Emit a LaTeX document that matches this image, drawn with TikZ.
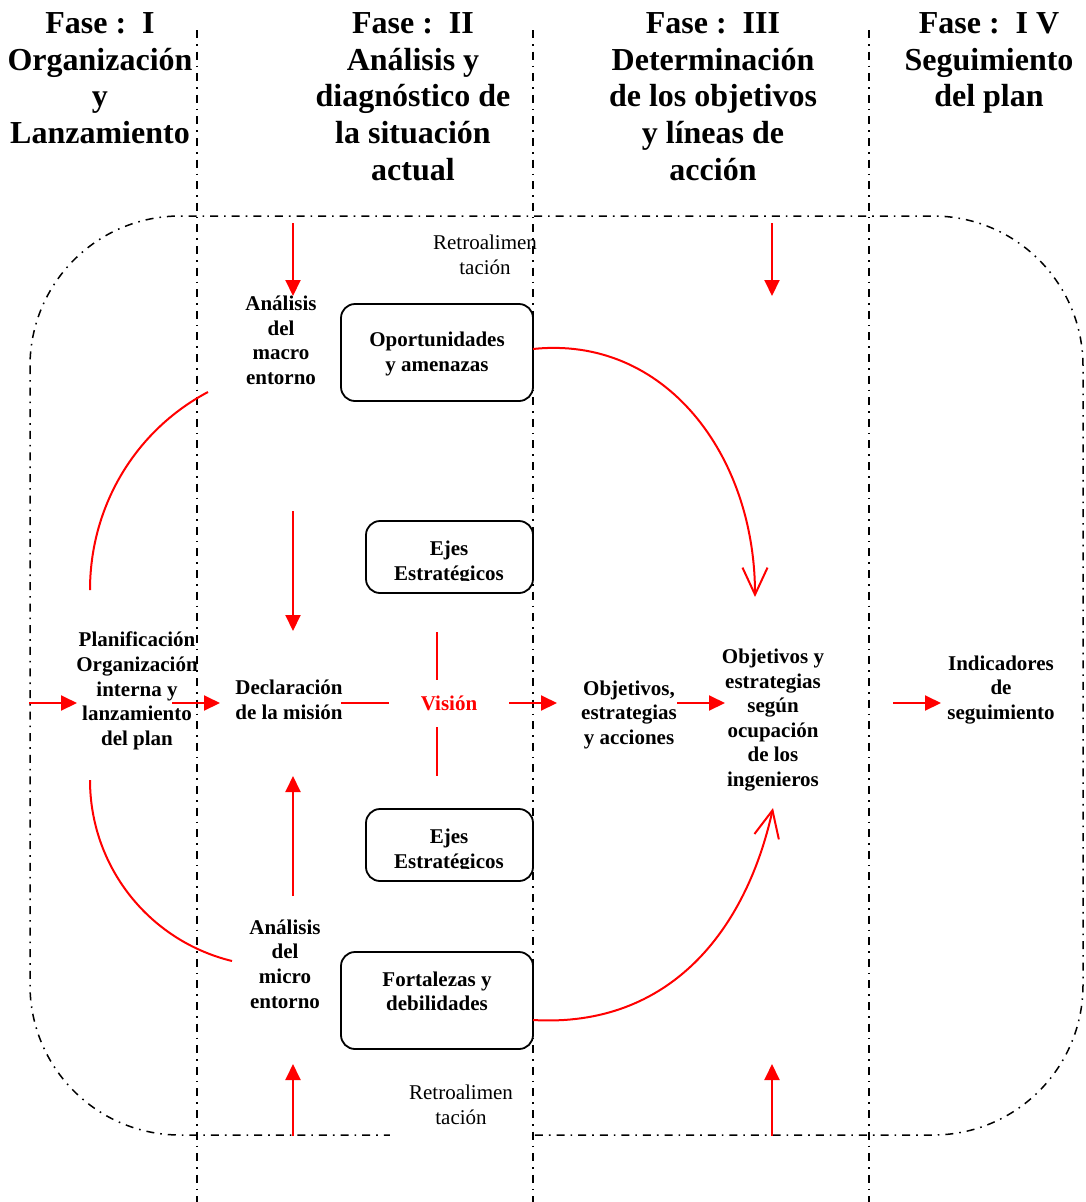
\documentclass[tikz,border=0pt]{standalone}
\usepackage{fontspec}
\setmainfont{Liberation Serif}
\usetikzlibrary{arrows.meta}
\definecolor{flowred}{RGB}{255,0,0}
\begin{document}
\begin{tikzpicture}[x=1pt,y=-1pt,
  phase/.style={font=\fontsize{32}{36.7}\selectfont\bfseries, align=center, inner sep=0pt, anchor=north},
  body/.style={font=\fontsize{21}{24.6}\selectfont\bfseries, align=center, inner sep=0pt},
  note/.style={font=\fontsize{21}{24.4}\selectfont, align=center, inner sep=0pt},
  frame/.style={line width=1.5pt, dash pattern=on 8pt off 6pt on 1.6pt off 6pt},
  divider/.style={line width=1.5pt, dash pattern=on 8pt off 6pt on 1.6pt off 6pt},
  box/.style={draw, line width=1.8pt, rounded corners=14pt, inner sep=0pt},
  flow/.style={draw=flowred, line width=2pt, -{Triangle[length=16pt,width=15pt]}},
  plainred/.style={draw=flowred, line width=2pt},
  sweep/.style={draw=flowred, line width=2pt, -{Straight Barb[length=27pt,width=25pt]}}]

\useasboundingbox (0,0) rectangle (1085,1202);

% outer dash-dot frame
\draw[frame, rounded corners=150pt] (30,216) rectangle (1083,1135);

% feedback notes (the lower one masks part of the frame)
\node[note] (retroA) at (485,255) {Retroalimen\\tación};
\node[note, fill=white, minimum width=142pt, minimum height=70pt] (retroB) at (461,1104.9) {Retroalimen\\tación};

% phase dividers
\foreach \xd in {197,533,869}
  \draw[divider] (\xd,30) -- (\xd,1202);

% phase headings
\node[phase] (fase1) at (100,12.4) {Fase :\ \ I\\Organización\\y\\Lanzamiento};
\node[phase] (fase2) at (413,12.4) {Fase :\ \ II\\Análisis y\\diagnóstico de\\la situación\\actual};
\node[phase] (fase3) at (713,12.4) {Fase :\ \ III\\Determinación\\de los objetivos\\y líneas de\\acción};
\node[phase] (fase4) at (989,12.4) {Fase :\ \ I V\\Seguimiento\\del plan};

% boxes
\node[box, minimum width=192pt, minimum height=97pt] (oport) at (437,352.5) {};
\node[box, minimum width=167pt, minimum height=72pt] (ejesA) at (449.5,557) {};
\node[box, minimum width=167pt, minimum height=72pt] (ejesB) at (449.5,845) {};
\node[box, minimum width=192pt, minimum height=97pt] (fort) at (437,1000.5) {};

\node[body] (oportT) at (437,354) {Oportunidades\\y amenazas};
\node[body] (fortT) at (437,991.4) {Fortalezas y\\debilidades};
\begin{scope}
  \clip (ejesA.north west) rectangle ([yshift=13.5pt]ejesA.south east);
  \node[body] (ejesAT) at (449,562.8) {Ejes\\Estratégicos};
\end{scope}
\begin{scope}
  \clip (ejesB.north west) rectangle ([yshift=13.5pt]ejesB.south east);
  \node[body] (ejesBT) at (449,850.8) {Ejes\\Estratégicos};
\end{scope}

% process texts
\node[body] (macro) at (281,340.5) {Análisis\\del\\macro\\entorno};
\node[body] (micro) at (285,964) {Análisis\\del\\micro\\entorno};
\node[body] (plan) at (137,691) {Planificación\\Organización\\interna y\\lanzamiento\\del plan};
\node[body] (mision) at (289,700) {Declaración\\de la misión};
\node[body, text=flowred] (vision) at (449,703.5) {Visión};
\node[body] (objA) at (629,714.8) {Objetivos,\\estrategias\\y acciones};
\node[body] (objB) at (773,720) {Objetivos y\\estrategias\\según\\ocupación\\de los\\ingenieros};
\node[body] (indic) at (1001,690) {Indicadores\\de\\seguimiento};

% connector end points
\coordinate (topL) at (293,223);   \coordinate (macroIn) at (293,296);
\coordinate (topR) at (772,223);   \coordinate (objBTopIn) at (772,296);
\coordinate (macroOut) at (293,511); \coordinate (misionTop) at (293,631);
\coordinate (microOut) at (293,896); \coordinate (misionBot) at (293,776);
\coordinate (botL) at (293,1136);  \coordinate (microIn) at (293,1064);
\coordinate (botR) at (772,1136);  \coordinate (objBBotIn) at (772,1064);
\coordinate (inL) at (29,703);     \coordinate (planIn) at (77,703);
\coordinate (planOut) at (172,703); \coordinate (misionIn) at (220,703);
\coordinate (misionOut) at (341,703); \coordinate (visionL) at (389,703);
\coordinate (visionOut) at (509,703); \coordinate (objAIn) at (557,703);
\coordinate (objAOut) at (677,703); \coordinate (objBIn) at (725,703);
\coordinate (objBOut) at (893,703); \coordinate (indicIn) at (941,703);
\coordinate (visTopA) at (437,632); \coordinate (visTopB) at (437,680);
\coordinate (visBotA) at (437,727); \coordinate (visBotB) at (437,776);
\coordinate (arcUpA) at (208,392); \coordinate (arcUpB) at (90,590);
\coordinate (arcLoA) at (90,780);  \coordinate (arcLoB) at (232,961);
\coordinate (oportOut) at (533,349); \coordinate (objBTip) at (755,597);
\coordinate (fortOut) at (533,1020); \coordinate (objBTipLo) at (773,808);

% straight red arrows
\draw[flow] (topL) -- (macroIn);
\draw[flow] (topR) -- (objBTopIn);
\draw[flow] (macroOut) -- (misionTop);
\draw[flow] (microOut) -- (misionBot);
\draw[flow] (botL) -- (microIn);
\draw[flow] (botR) -- (objBBotIn);
\draw[flow] (inL) -- (planIn);
\draw[flow] (planOut) -- (misionIn);
\draw[plainred] (misionOut) -- (visionL);
\draw[flow] (visionOut) -- (objAIn);
\draw[flow] (objAOut) -- (objBIn);
\draw[flow] (objBOut) -- (indicIn);
\draw[plainred] (visTopA) -- (visTopB);
\draw[plainred] (visBotA) -- (visBotB);

% red arcs
\draw[plainred] (arcUpA) .. controls (134.5,431) and (90,507) .. (arcUpB);
\draw[plainred] (arcLoA) .. controls (90,866) and (148.4,940.6) .. (arcLoB);
\draw[sweep] (oportOut) .. controls (665,335) and (755,455) .. (objBTip);
\draw[sweep] (fortOut) .. controls (670,1028) and (746,930) .. (objBTipLo);
\end{tikzpicture}
\end{document}
